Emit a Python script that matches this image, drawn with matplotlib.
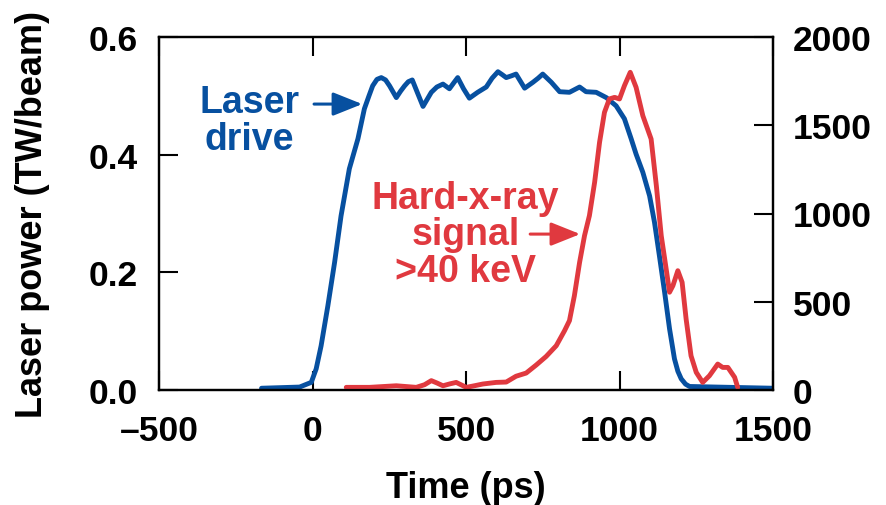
import matplotlib
matplotlib.use("Agg")
import matplotlib.pyplot as plt

# Laser drive power (TW/beam) vs time (ps)
laser_time = [-166, -42, -4, 12, 28, 50, 72, 93, 120, 148, 169, 184, 196, 210, 224,
              238, 251, 273, 287, 300, 312, 325, 342, 360, 387, 405, 425, 446, 460,
              473, 492, 511, 538, 566, 585, 604, 618, 631, 648, 663, 691, 718, 735,
              750, 778, 805, 837, 870, 891, 924, 957, 989, 1016, 1038, 1054, 1076,
              1098, 1114, 1130, 1147, 1163, 1179, 1190, 1201, 1215, 1228, 1315, 1500]
laser_power = [0.003, 0.005, 0.013, 0.036, 0.075, 0.143, 0.217, 0.296, 0.376, 0.427,
               0.478, 0.500, 0.517, 0.528, 0.531, 0.527, 0.517, 0.497, 0.508, 0.517,
               0.524, 0.527, 0.505, 0.482, 0.506, 0.515, 0.520, 0.512, 0.522, 0.531,
               0.512, 0.496, 0.506, 0.515, 0.530, 0.541, 0.536, 0.531, 0.534, 0.537,
               0.513, 0.523, 0.530, 0.537, 0.523, 0.507, 0.506, 0.515, 0.507, 0.506,
               0.497, 0.483, 0.461, 0.427, 0.401, 0.370, 0.330, 0.285, 0.228, 0.166,
               0.104, 0.053, 0.032, 0.019, 0.010, 0.006, 0.005, 0.003]

# Hard-x-ray signal (>40 keV) vs time (ps)
hxr_time = [110, 186, 273, 338, 365, 387, 405, 425, 448, 468, 501, 530, 555, 598, 631,
            663, 696, 729, 761, 794, 821, 837, 853, 870, 886, 902, 919, 935, 951, 967,
            984, 1000, 1016, 1035, 1054, 1076, 1103, 1120, 1136, 1152, 1163, 1174,
            1190, 1204, 1217, 1233, 1250, 1271, 1293, 1320, 1336, 1353, 1375, 1385]
hxr_signal = [15, 15, 24, 15, 30, 53, 40, 24, 35, 43, 15, 25, 34, 43, 45, 78, 96, 142,
              190, 251, 336, 393, 534, 723, 874, 988, 1177, 1403, 1573, 1649, 1658,
              1649, 1724, 1800, 1715, 1554, 1422, 1158, 874, 686, 554, 591, 676, 610,
              402, 194, 100, 43, 81, 147, 128, 128, 72, 15]

x_ticks = [-500, 0, 500, 1000, 1500]
left_ticks = [0.0, 0.2, 0.4, 0.6]
right_ticks = [0, 500, 1000, 1500, 2000]

BLUE = "#0750A0"
RED = "#E0393F"

plt.rcParams["font.family"] = ["Liberation Sans", "DejaVu Sans"]
plt.rcParams["font.weight"] = "bold"

fig = plt.figure(figsize=(8.86, 5.06), dpi=100)
ax = fig.add_axes([159 / 886, 1 - 391 / 506, 614 / 886, 353 / 506])
ax2 = ax.twinx()

ax.plot(laser_time, laser_power, color=BLUE, lw=3.5, solid_joinstyle="round",
        solid_capstyle="round")
ax2.plot(hxr_time, hxr_signal, color=RED, lw=3.5, solid_joinstyle="round",
         solid_capstyle="round")

ax.set_xlim(-500, 1500)
ax.set_ylim(0, 0.6)
ax2.set_ylim(0, 2000)

ax.set_xticks(x_ticks)
ax.set_xticklabels(["\u2013500" if v < 0 else str(v) for v in x_ticks])
ax.set_yticks(left_ticks)
ax.set_yticklabels([f"{v:.1f}" for v in left_ticks])
ax2.set_yticks(right_ticks)
ax2.set_yticklabels([str(v) for v in right_ticks])

fs = 25.5
tick_len = 14
ax.tick_params(axis="x", direction="in", length=tick_len, width=1.5, top=True,
               labelsize=fs, pad=17)
ax.tick_params(axis="y", direction="in", length=tick_len, width=1.5, labelsize=fs,
               pad=15)
ax2.tick_params(axis="y", direction="in", length=tick_len, width=1.5, labelsize=fs,
                pad=14)

for a in (ax, ax2):
    for s in a.spines.values():
        s.set_linewidth(1.6)

ax.set_xlabel("Time (ps)", fontsize=26, fontweight="bold", va="top")
ax.xaxis.set_label_coords(0.5, -0.228)
ax.set_ylabel("Laser power (TW/beam)", fontsize=26, fontweight="bold")
ax.yaxis.set_label_coords(-0.177, 0.5)

ax.text(-205, 0.458, "Laser\ndrive", color=BLUE, fontsize=27, fontweight="bold",
        ha="center", va="center", linespacing=1.05)
ax.annotate("", xy=(171, 0.486), xytext=(-4, 0.486),
            arrowprops=dict(arrowstyle="-|>,head_length=0.9,head_width=0.36",
                            mutation_scale=20, color=BLUE, lw=2.2))

ax.text(498, 0.265, "Hard-x-ray\nsignal\n>40 keV", color=RED, fontsize=27,
        fontweight="bold", ha="center", va="center", linespacing=1.02)
ax.annotate("", xy=(881, 0.265), xytext=(700, 0.265),
            arrowprops=dict(arrowstyle="-|>,head_length=0.9,head_width=0.36",
                            mutation_scale=20, color=RED, lw=2.2))

fig.savefig("out.png", dpi=100)
